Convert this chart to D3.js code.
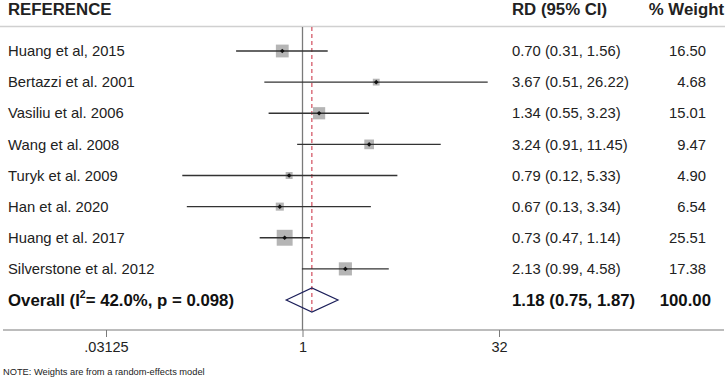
<!DOCTYPE html>
<html><head><meta charset="utf-8">
<script src="https://cdn.jsdelivr.net/npm/d3@7"></script>
<style>body{margin:0;background:#fff}svg{display:block;font-family:"Liberation Sans",Arial,sans-serif}</style>
</head><body><svg id="c" width="726" height="380"></svg>
<script>
const studies = ["Huang et al, 2015","Bertazzi et al. 2001","Vasiliu et al. 2006","Wang et al. 2008","Turyk et al. 2009","Han et al. 2020","Huang et al. 2017","Silverstone et al. 2012"];
const rd = [0.70,3.67,1.34,3.24,0.79,0.67,0.73,2.13];
const lo = [0.31,0.51,0.55,0.91,0.12,0.13,0.47,0.99];
const hi = [1.56,26.22,3.23,11.45,5.33,3.34,1.14,4.58];
const weights = [16.50,4.68,15.01,9.47,4.90,6.54,25.51,17.38];
const overallEst = [1.18,0.75,1.87];
const overallWeight = 100.00;
const tickValues = [0.03125,1,32];
const tickLabels = [".03125","1","32"];
const headers = ["REFERENCE","RD (95% CI)","% Weight"];

const svg = d3.select("#c");
const x = d3.scaleLog().base(2).domain([0.03125,32]).range([106,499]);
const y = d3.scaleLinear().domain([0,8]).range([51,300]);
const txt = "#222";
const fs = 14.8, fsB = 16.8;

// header
svg.append("line").attr("x1",0).attr("x2",725).attr("y1",26.5).attr("y2",26.5).attr("stroke","#d0d0d0").attr("stroke-width",1.5);
svg.append("text").attr("x",8).attr("y",15).attr("font-size",fsB).attr("font-weight","bold").attr("fill",txt).text(headers[0]);
svg.append("text").attr("x",512).attr("y",15).attr("font-size",fsB).attr("font-weight","bold").attr("fill",txt).text(headers[1]);
svg.append("text").attr("x",724).attr("y",15).attr("font-size",fsB).attr("font-weight","bold").attr("fill",txt).attr("text-anchor","end").text(headers[2]);

// null line
svg.append("line").attr("x1",x(1)).attr("x2",x(1)).attr("y1",27).attr("y2",330).attr("stroke","#7a7a7a").attr("stroke-width",1.3);
// overall dashed
svg.append("line").attr("x1",x(overallEst[0])).attr("x2",x(overallEst[0])).attr("y1",27).attr("y2",312)
  .attr("stroke","#c8283c").attr("stroke-width",1).attr("stroke-dasharray","4,3");

// axis
svg.append("line").attr("x1",3).attr("x2",724).attr("y1",330).attr("y2",330).attr("stroke","#7a7a7a").attr("stroke-width",1.2);
const ax = svg.append("g").attr("transform","translate(0,330)")
  .call(d3.axisBottom(x).tickValues(tickValues).tickSize(7).tickFormat((d,i)=>tickLabels[i]));
ax.select(".domain").remove();
ax.selectAll(".tick line").attr("stroke","#7a7a7a");
ax.selectAll(".tick text").attr("font-size",14.5).attr("fill",txt).attr("font-family","Liberation Sans, Arial, sans-serif").attr("y",12);

// study rows
const rows = svg.selectAll("g.row").data(studies).enter().append("g").attr("class","row");
rows.append("text").attr("x",8).attr("y",(d,i)=>y(i)).attr("dy","0.35em").attr("font-size",fs).attr("fill",txt).text(d=>d);
rows.append("rect")
  .attr("x",(d,i)=>x(rd[i])-3.15*Math.sqrt(weights[i])/2)
  .attr("y",(d,i)=>y(i)-3.15*Math.sqrt(weights[i])/2)
  .attr("width",(d,i)=>3.15*Math.sqrt(weights[i]))
  .attr("height",(d,i)=>3.15*Math.sqrt(weights[i]))
  .attr("fill","#b5b5b5");
rows.append("line").attr("x1",(d,i)=>x(lo[i])).attr("x2",(d,i)=>x(hi[i])).attr("y1",(d,i)=>y(i)).attr("y2",(d,i)=>y(i))
  .attr("stroke","#333").attr("stroke-width",1.4);
rows.append("path").attr("d",(d,i)=>{const cx=x(rd[i]),cy=y(i);return `M${cx-2.3},${cy}L${cx},${cy-2.3}L${cx+2.3},${cy}L${cx},${cy+2.3}Z`;}).attr("fill","#111");
rows.append("text").attr("x",512).attr("y",(d,i)=>y(i)).attr("dy","0.35em").attr("font-size",fs).attr("fill",txt)
  .text((d,i)=>`${rd[i].toFixed(2)} (${lo[i].toFixed(2)}, ${hi[i].toFixed(2)})`);
rows.append("text").attr("x",706).attr("y",(d,i)=>y(i)).attr("dy","0.35em").attr("font-size",fs).attr("fill",txt).attr("text-anchor","end")
  .text((d,i)=>weights[i].toFixed(2));

// overall
const oy = y(8);
const ot = svg.append("text").attr("x",8).attr("y",oy).attr("dy","0.35em").attr("font-size",fsB).attr("font-weight","bold").attr("fill","#111");
ot.append("tspan").text("Overall (I");
ot.append("tspan").attr("font-size",10.5).attr("dy","-0.75em").text("2");
ot.append("tspan").attr("dy","0.47em").text("= 42.0%, p = 0.098)");
svg.append("path").attr("d",`M${x(overallEst[1])},${oy}L${x(overallEst[0])},${oy-12}L${x(overallEst[2])},${oy}L${x(overallEst[0])},${oy+12}Z`)
  .attr("fill","none").attr("stroke","#1c1f5a").attr("stroke-width",1.2);
svg.append("text").attr("x",512).attr("y",oy).attr("dy","0.35em").attr("font-size",fsB).attr("font-weight","bold").attr("fill","#111")
  .text(`${overallEst[0].toFixed(2)} (${overallEst[1].toFixed(2)}, ${overallEst[2].toFixed(2)})`);
svg.append("text").attr("x",711).attr("y",oy).attr("dy","0.35em").attr("font-size",fsB).attr("font-weight","bold").attr("fill","#111").attr("text-anchor","end")
  .text(overallWeight.toFixed(2));

svg.append("text").attr("x",3).attr("y",375).attr("font-size",9.3).attr("fill",txt).text("NOTE: Weights are from a random-effects model");
</script></body></html>
